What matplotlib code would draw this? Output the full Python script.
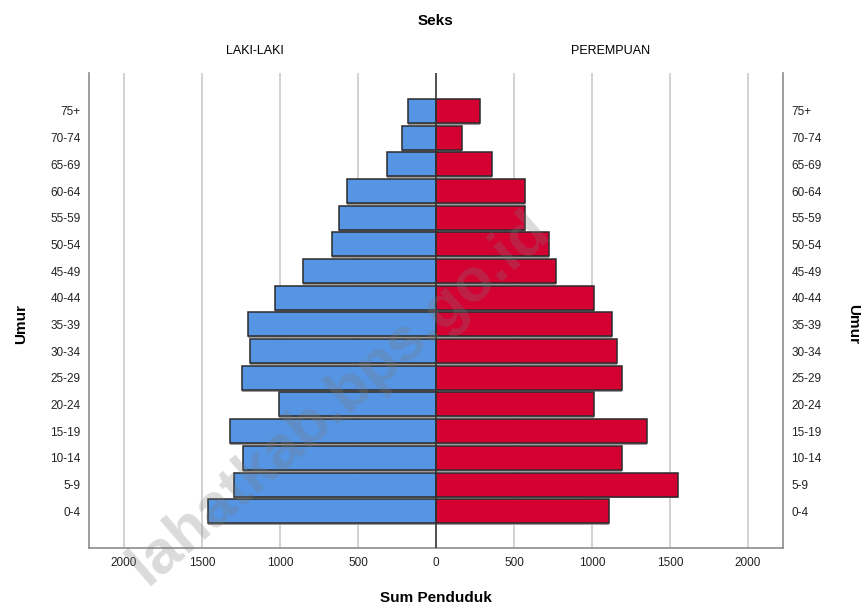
import matplotlib.pyplot as plt
import numpy as np

plt.rcParams['font.family'] = ['Liberation Sans Narrow', 'Liberation Sans', 'DejaVu Sans']

# age groups, bottom to top
umur = ['0-4', '5-9', '10-14', '15-19', '20-24', '25-29', '30-34', '35-39',
        '40-44', '45-49', '50-54', '55-59', '60-64', '65-69', '70-74', '75+']
laki = [1464, 1295, 1237, 1323, 1008, 1241, 1190, 1203,
        1030, 850, 667, 620, 573, 312, 216, 177]
perempuan = [1109, 1553, 1190, 1353, 1013, 1195, 1158, 1126,
             1013, 767, 726, 571, 573, 359, 169, 282]
xticks = [-2000, -1500, -1000, -500, 0, 500, 1000, 1500, 2000]

blue = '#5595e3'
red = '#d50032'

fig = plt.figure(figsize=(8.65, 6.09), dpi=100)
ax = fig.add_axes([0.1029, 0.0997, 0.8023, 0.7803])

y = np.arange(len(umur))
h = 0.9

# little grey shadow under each bar
ax.barh(y - 0.07, [-v for v in laki], height=h, color='#9a9a9a', zorder=2)
ax.barh(y - 0.07, perempuan, height=h, color='#9a9a9a', zorder=2)
ax.barh(y, [-v for v in laki], height=h, color=blue, edgecolor='#2b2b2b', linewidth=1.1, zorder=3)
ax.barh(y, perempuan, height=h, color=red, edgecolor='#2b2b2b', linewidth=1.1, zorder=3)

ax.set_xlim(-2225, 2225)
ax.set_ylim(-1.39, 16.42)

for xv in xticks:
    if xv != 0:
        ax.axvline(xv, color='#cfcfcf', linewidth=1.3, zorder=1)
ax.axvline(0, color='#333333', linewidth=1.2, zorder=4)

ax.set_xticks(xticks)
ax.set_xticklabels([str(abs(v)) for v in xticks], fontsize=8.5)
ax.set_yticks(y)
ax.set_yticklabels(umur, fontsize=8.5)
ax.tick_params(axis='both', length=0, pad=6, colors='#222222')
ax.tick_params(axis='y', labelright=True, pad=6)

ax.spines['top'].set_visible(False)
for s in ['left', 'right', 'bottom']:
    ax.spines[s].set_color('#8c8c8c')
    ax.spines[s].set_linewidth(1.2)

# titles
fig.text(0.504, 0.965, 'Seks', ha='center', va='center', fontsize=11, fontweight='bold')
ax.text(0.239, 1.047, 'LAKI-LAKI', transform=ax.transAxes, ha='center', va='center', fontsize=9)
ax.text(0.751, 1.047, 'PEREMPUAN', transform=ax.transAxes, ha='center', va='center', fontsize=9)
fig.text(0.504, 0.018, 'Sum Penduduk', ha='center', va='center', fontsize=11, fontweight='bold')
fig.text(0.024, 0.468, 'Umur', ha='center', va='center', rotation=90, fontsize=11, fontweight='bold')
fig.text(0.986, 0.468, 'Umur', ha='center', va='center', rotation=270, fontsize=11, fontweight='bold')

# watermark
fig.text(0.392, 0.345, 'lahatkab.bps.go.id', ha='center', va='center',
         rotation=41, rotation_mode='anchor', fontsize=44, fontweight='bold',
         family=['Liberation Sans', 'DejaVu Sans'], color='#7a7a7a', alpha=0.27, zorder=10)

fig.savefig('out.png', dpi=100)
